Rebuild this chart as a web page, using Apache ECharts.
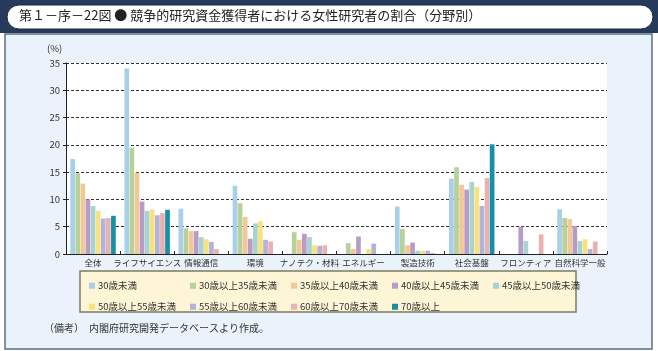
<!DOCTYPE html>
<html>
<head>
<meta charset="utf-8">
<script src="https://cdn.jsdelivr.net/npm/echarts@6/dist/echarts.min.js"></script>
<style>
  html, body { margin: 0; padding: 0; background: #ffffff; }
  #chart { width: 658px; height: 351px; }
</style>
</head>
<body>
<div id="chart"></div>
<script>
// 分野
const categories = ['全体', 'ライフサイエンス', '情報通信', '環境', 'ナノテク・材料', 'エネルギー', '製造技術', '社会基盤', 'フロンティア', '自然科学一般'];

// 年齢階層ごとの女性研究者の割合 (%)
const age30u    = [17.4, 34.0, 8.3, 12.5, 0,   0,   8.7, 13.8, 0,   8.2];
const age30_35  = [14.8, 19.5, 4.7, 9.3,  4.0, 2.0, 4.6, 15.9, 0,   6.6];
const age35_40  = [12.9, 14.9, 4.2, 6.8,  2.6, 0.9, 1.6, 12.7, 0,   6.4];
const age40_45  = [10.0, 9.6,  4.2, 2.8,  3.7, 3.2, 2.1, 11.8, 5.0, 5.1];
const age45_50  = [8.8,  7.9,  3.1, 5.6,  3.1, 0,   0.6, 13.2, 2.4, 2.4];
const age50_55  = [7.9,  8.1,  2.7, 6.0,  1.6, 0.9, 0.6, 12.3, 0,   2.7];
const age55_60  = [6.5,  7.1,  2.2, 2.6,  1.5, 1.9, 0.6, 8.8,  0,   0.9];
const age60_70  = [6.6,  7.5,  0.9, 2.3,  1.6, 0,   0.2, 13.9, 3.6, 2.3];
const age70o    = [7.0,  8.1,  0,   0,    0,   0,   0,   20.1, 0,   0];

const seriesNames = ['30歳未満', '30歳以上35歳未満', '35歳以上40歳未満', '40歳以上45歳未満', '45歳以上50歳未満',
                     '50歳以上55歳未満', '55歳以上60歳未満', '60歳以上70歳未満', '70歳以上'];
const seriesData = [age30u, age30_35, age35_40, age40_45, age45_50, age50_55, age55_60, age60_70, age70o];
const colors = ['#a9cfe9', '#b6d19c', '#f1c996', '#b99cc6', '#a7d3d3', '#f7e27c', '#b3b3da', '#e9b2b0', '#1690a8'];

const yTicks = [0, 5, 10, 15, 20, 25, 30, 35];

const font = '"Noto Sans CJK JP", "Noto Sans", sans-serif';

let myChart = echarts.init(document.getElementById('chart'));

// 凡例は2行5列で個別に配置
let legends = seriesNames.map((name, i) => ({
    data: [name],
    left: 84 + (i % 5) * 101,
    top: i < 5 ? 276 : 297,
    itemWidth: 6,
    itemHeight: 6,
    itemGap: 0,
    icon: 'rect',
    selectedMode: false,
    textStyle: { fontFamily: font, fontSize: 9.5, color: '#333', padding: [0, 0, 0, -2] }
}));

myChart.setOption({
    backgroundColor: '#ffffff',
    animation: false,
    color: colors,
    graphic: [
        // 見出し帯
        { type: 'rect', shape: { x: 0, y: 0, width: 658, height: 33 }, style: { fill: '#263a5c' }, z: -10 },
        { type: 'rect', shape: { x: 7, y: 5, width: 646, height: 24, r: 12 }, style: { fill: '#ffffff', stroke: '#1d2b45', lineWidth: 1 }, z: -9 },
        { type: 'text', left: 19, top: 9, style: { text: '第１－序－22図 ● 競争的研究資金獲得者における女性研究者の割合（分野別）', font: '13px ' + font, fill: '#222' }, z: -8 },
        // 本体パネル
        { type: 'rect', shape: { x: 5, y: 34, width: 647, height: 315 }, style: { fill: '#eaf3fb', stroke: '#5d6f80', lineWidth: 1.5 }, z: -10 },
        // 凡例枠
        { type: 'rect', shape: { x: 80, y: 271, width: 496, height: 41 }, style: { fill: '#fdf5d6', stroke: '#7e7a66', lineWidth: 1.5 }, z: -5 },
        { type: 'text', left: 47, top: 44, style: { text: '(%)', font: '9.5px ' + font, fill: '#333' } },
        { type: 'text', left: 44, top: 323, style: { text: '（備考）　内閣府研究開発データベースより作成。', font: '10px ' + font, fill: '#333' } }
    ],
    legend: legends,
    grid: {
        left: 66,
        right: 51,
        top: 63,
        bottom: 97,
        show: true,
        backgroundColor: '#ffffff',
        borderWidth: 0
    },
    xAxis: {
        type: 'category',
        data: categories,
        axisLine: { lineStyle: { color: '#222', width: 1 } },
        axisTick: { show: true, inside: true, length: 3, lineStyle: { color: '#222' } },
        axisLabel: { fontFamily: font, fontSize: 8.5, color: '#333', margin: 5, interval: 0 }
    },
    yAxis: {
        type: 'value',
        min: yTicks[0],
        max: yTicks[yTicks.length - 1],
        interval: 5,
        axisLine: { show: true, lineStyle: { color: '#222', width: 1 } },
        axisTick: { show: true, length: 3, lineStyle: { color: '#222' } },
        axisLabel: { fontFamily: font, fontSize: 9.5, color: '#333', margin: 6 },
        splitLine: { show: true, lineStyle: { color: '#333', type: [3, 2], width: 1 } }
    },
    series: seriesData.map((d, i) => ({
        name: seriesNames[i],
        type: 'bar',
        data: d,
        barGap: '8%',
        barCategoryGap: '16%',
        itemStyle: { color: colors[i] }
    }))
});
</script>
</body>
</html>
